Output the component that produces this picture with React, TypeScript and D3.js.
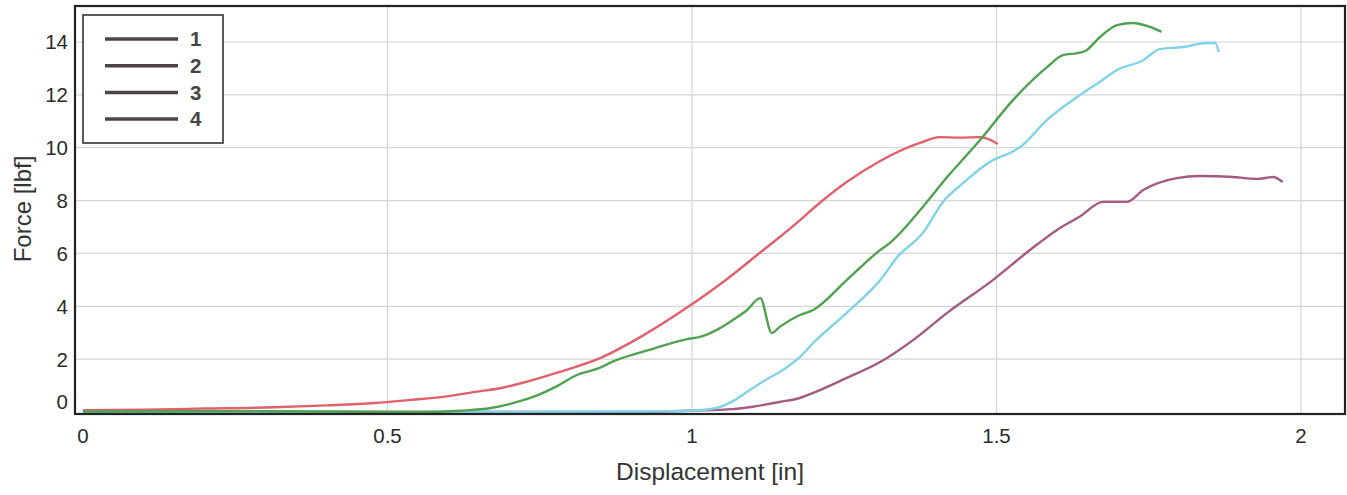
import React from "react";
import * as d3 from "d3";

const seriesNames = ["1", "2", "3", "4"];
const seriesColors = ["#4fa24f", "#e0606c", "#82d2ea", "#a45a82"];

const s1X = [0, 0.2, 0.4, 0.55, 0.62, 0.67, 0.7, 0.739, 0.78, 0.811, 0.84, 0.877, 0.93, 0.992, 1.013, 1.04, 1.067, 1.09, 1.112, 1.131, 1.144, 1.177, 1.199, 1.254, 1.309, 1.325, 1.379, 1.419, 1.473, 1.527, 1.583, 1.609, 1.632, 1.645, 1.67, 1.698, 1.724, 1.752, 1.771];
const s1Y = [0.02, 0.03, 0.02, 0.0, 0.05, 0.15, 0.3, 0.57, 1.0, 1.4, 1.6, 1.97, 2.35, 2.76, 2.84, 3.1, 3.48, 3.85, 4.31, 2.99, 3.22, 3.67, 3.86, 4.99, 6.13, 6.4, 7.76, 8.89, 10.29, 11.8, 13.05, 13.5, 13.58, 13.65, 14.19, 14.64, 14.72, 14.57, 14.38];

const s2X = [0, 0.1, 0.2, 0.315, 0.4, 0.479, 0.534, 0.6, 0.644, 0.685, 0.726, 0.78, 0.849, 0.92, 0.993, 1.05, 1.107, 1.144, 1.177, 1.199, 1.254, 1.309, 1.374, 1.407, 1.44, 1.473, 1.49, 1.502];
const s2Y = [0.07, 0.09, 0.13, 0.18, 0.25, 0.34, 0.45, 0.6, 0.76, 0.9, 1.13, 1.5, 2.04, 2.9, 3.97, 4.9, 5.94, 6.62, 7.25, 7.7, 8.7, 9.5, 10.18, 10.4, 10.38, 10.4, 10.3, 10.14];

const s3X = [0, 0.3, 0.6, 0.9, 1.0, 1.04, 1.07, 1.095, 1.12, 1.149, 1.177, 1.199, 1.254, 1.309, 1.337, 1.379, 1.412, 1.445, 1.494, 1.522, 1.539, 1.583, 1.637, 1.67, 1.698, 1.74, 1.768, 1.806, 1.845, 1.859, 1.865];
const s3Y = [0.0, 0.0, 0.0, 0.02, 0.05, 0.15, 0.45, 0.83, 1.2, 1.59, 2.08, 2.61, 3.75, 4.99, 5.86, 6.77, 7.95, 8.66, 9.53, 9.8, 10.03, 11.05, 11.99, 12.5, 12.94, 13.3, 13.73, 13.81, 13.96, 13.96, 13.62];

const s4X = [0, 0.3, 0.6, 0.9, 1.0, 1.067, 1.1, 1.144, 1.177, 1.199, 1.254, 1.309, 1.363, 1.419, 1.494, 1.555, 1.6, 1.637, 1.675, 1.714, 1.741, 1.796, 1.834, 1.888, 1.928, 1.954, 1.97];
const s4Y = [0.0, 0.0, 0.0, 0.0, 0.05, 0.11, 0.2, 0.38, 0.53, 0.72, 1.29, 1.89, 2.72, 3.75, 4.99, 6.13, 6.9, 7.4, 7.95, 7.95, 8.4, 8.85, 8.93, 8.89, 8.82, 8.89, 8.7];

const xTicks = [0, 0.5, 1, 1.5, 2];
const xTickLabels = ["0", "0.5", "1", "1.5", "2"];
const yTicks = [0, 2, 4, 6, 8, 10, 12, 14];
const yTickLabels = ["0", "2", "4", "6", "8", "10", "12", "14"];

const W = 1347;
const H = 495;
const L = 75, R = 1345, T = 6, B = 414;

export default function App() {
  const x = d3.scaleLinear().domain([0, 2]).range([83, 1301]);
  const y = d3.scaleLinear().domain([0, 14]).range([412, 42]);
  const xs = [s1X, s2X, s3X, s4X];
  const ys = [s1Y, s2Y, s3Y, s4Y];
  const line = d3
    .line<[number, number]>()
    .x((d) => x(d[0]))
    .y((d) => y(d[1]))
    .curve(d3.curveMonotoneX);
  const font = "Arial, 'Liberation Sans', sans-serif";
  const order = [3, 2, 1, 0];
  return (
    <svg
      width={W}
      height={H}
      style={{ position: "absolute", left: 0, top: 0, background: "#fff" }}
      fontFamily={font}
    >
      <rect x={0} y={0} width={W} height={H} fill="#fff" />
      <defs>
        <clipPath id="clip">
          <rect x={L} y={T} width={R - L} height={B - T} />
        </clipPath>
      </defs>
      {/* grid */}
      {yTicks.filter((t) => t > 0).map((t) => (
        <line key={"gy" + t} x1={L} x2={R} y1={y(t)} y2={y(t)} stroke="#d6d6d6" strokeWidth={1.2} />
      ))}
      {xTicks.filter((t) => t > 0).map((t) => (
        <line key={"gx" + t} x1={x(t)} x2={x(t)} y1={T} y2={B} stroke="#d6d6d6" strokeWidth={1.2} />
      ))}
      {/* series */}
      <g clipPath="url(#clip)">
        {order.map((i) => (
          <path
            key={"s" + i}
            d={line(xs[i].map((v, j) => [v, ys[i][j]] as [number, number])) || ""}
            fill="none"
            stroke={seriesColors[i]}
            strokeWidth={2.4}
            strokeLinejoin="round"
          />
        ))}
      </g>
      {/* frame */}
      <rect x={L} y={T} width={R - L} height={B - T} fill="none" stroke="#222" strokeWidth={2.2} />
      {/* y tick labels */}
      {yTicks.map((t, i) => (
        <text
          key={"yl" + t}
          x={68}
          y={t === 0 ? 402 : y(t)}
          dy="0.36em"
          textAnchor="end"
          fontSize={20.5}
          fill="#2b2b2b"
        >
          {yTickLabels[i]}
        </text>
      ))}
      {/* x tick labels */}
      {xTicks.map((t, i) => (
        <text key={"xl" + t} x={x(t)} y={436} dy="0.36em" textAnchor="middle" fontSize={20.5} fill="#2b2b2b">
          {xTickLabels[i]}
        </text>
      ))}
      {/* axis titles */}
      <text x={710} y={480} textAnchor="middle" fontSize={24.5} fill="#333">
        Displacement [in]
      </text>
      <text
        transform={`translate(31,209) rotate(-90)`}
        textAnchor="middle"
        fontSize={24}
        fill="#333"
      >
        Force [lbf]
      </text>
      {/* legend */}
      <rect x={83} y={15} width={140} height={128} fill="#fff" stroke="#333" strokeWidth={1.6} />
      {seriesNames.map((n, i) => (
        <g key={"lg" + n}>
          <line x1={105} x2={178} y1={39 + i * 26.7} y2={39 + i * 26.7} stroke="#4a4444" strokeWidth={3.5} />
          <text x={190} y={39 + i * 26.7} dy="0.36em" fontSize={20.5} fontWeight="bold" fill="#444">
            {n}
          </text>
        </g>
      ))}
    </svg>
  );
}
